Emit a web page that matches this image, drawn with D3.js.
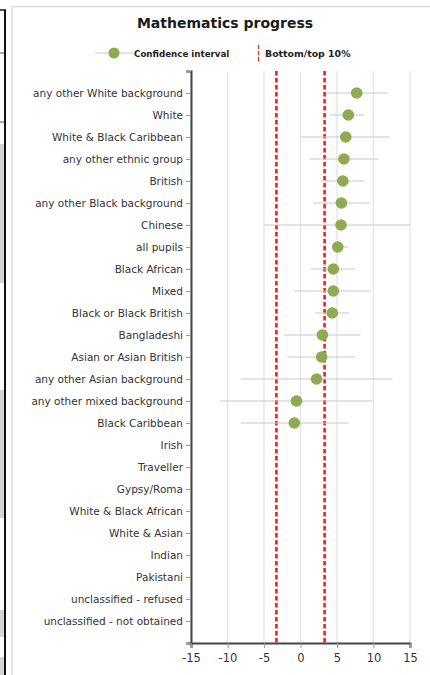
<!DOCTYPE html>
<html>
<head>
<meta charset="utf-8">
<script src="https://cdn.jsdelivr.net/npm/d3@7"></script>
<style>
  html, body { margin: 0; padding: 0; background: #fff; }
  svg { display: block; font-family: "DejaVu Sans", Verdana, sans-serif; }
</style>
</head>
<body>
<svg id="chart" width="430" height="675"></svg>
<script>
// Ethnic groups, top to bottom
const categories = [
  "any other White background", "White", "White & Black Caribbean",
  "any other ethnic group", "British", "any other Black background",
  "Chinese", "all pupils", "Black African", "Mixed", "Black or Black British",
  "Bangladeshi", "Asian or Asian British", "any other Asian background",
  "any other mixed background", "Black Caribbean", "Irish", "Traveller",
  "Gypsy/Roma", "White & Black African", "White & Asian", "Indian",
  "Pakistani", "unclassified - refused", "unclassified - not obtained"
];
// Progress score and confidence interval (null = no data)
const progress = [7.7, 6.55, 6.2, 5.95, 5.8, 5.6, 5.55, 5.1, 4.5, 4.5, 4.35, 3.0, 2.9, 2.2, -0.55, -0.85,
  null, null, null, null, null, null, null, null, null];
const ciLower = [3.6, 4.0, 0.0, 1.3, 3.0, 1.7, -4.95, 4.5, 1.4, -0.8, 2.0, -2.2, -1.8, -8.2, -11.0, -8.2,
  null, null, null, null, null, null, null, null, null];
const ciUpper = [11.9, 8.8, 12.2, 10.7, 8.8, 9.5, 15, 6.5, 7.5, 9.65, 6.65, 8.2, 7.5, 12.6, 9.9, 6.6,
  null, null, null, null, null, null, null, null, null];
// Bottom / top 10% thresholds
const thresholds = [-3.3, 3.3];
const xTicks = [-15, -10, -5, 0, 5, 10, 15];

(function () {
const svg = d3.select("#chart");
const W = 430, H = 675;

// page surroundings
svg.append("rect").attr("x", 0).attr("y", 144).attr("width", 4).attr("height", 139).attr("fill", "#d4d4d4");
svg.append("rect").attr("x", 0).attr("y", 390).attr("width", 4).attr("height", 128).attr("fill", "#d4d4d4");
svg.append("rect").attr("x", 0).attr("y", 610).attr("width", 4).attr("height", 27).attr("fill", "#d4d4d4");
svg.append("rect").attr("x", 0).attr("y", 657).attr("width", 4).attr("height", 18).attr("fill", "#d4d4d4");
svg.append("line").attr("x1", 0).attr("x2", 6).attr("y1", 10).attr("y2", 10).attr("stroke", "#111").attr("stroke-width", 1.5);
svg.append("line").attr("x1", 0).attr("x2", 5).attr("y1", 53).attr("y2", 53).attr("stroke", "#555").attr("stroke-width", 1);
svg.append("line").attr("x1", 0).attr("x2", 5).attr("y1", 122).attr("y2", 122).attr("stroke", "#555").attr("stroke-width", 1);
svg.append("line").attr("x1", 5).attr("x2", 5).attr("y1", 10).attr("y2", H).attr("stroke", "#111").attr("stroke-width", 2);

// panel border
svg.append("path").attr("d", `M12,${H} V6.5 H${W}`).attr("fill", "none").attr("stroke", "#dcdcdc").attr("stroke-width", 1.5);

const plotL = 191, plotR = 410, plotT = 71, plotB = 643;
const x = d3.scaleLinear().domain([-15, 15]).range([plotL, plotR]);
const y = d3.scaleLinear().domain([0, categories.length + 1]).range([plotT, plotB]);

// title
svg.append("text").attr("x", 225).attr("y", 28).attr("text-anchor", "middle")
  .attr("font-size", 14).attr("font-weight", "bold").attr("fill", "#1a1a1a")
  .text("Mathematics progress");

// legend
const lg = svg.append("g");
lg.append("line").attr("x1", 95).attr("x2", 133).attr("y1", 53).attr("y2", 53)
  .attr("stroke", "#c8c8c8").attr("stroke-width", 1.2);
lg.append("circle").attr("cx", 114).attr("cy", 53).attr("r", 5.5).attr("fill", "#8eab50");
lg.append("text").attr("x", 134).attr("y", 56.5).attr("font-size", 8.7).attr("font-weight", "bold")
  .attr("fill", "#222").text("Confidence interval");
lg.append("line").attr("x1", 258.5).attr("x2", 258.5).attr("y1", 45).attr("y2", 63)
  .attr("stroke", "#ff2020").attr("stroke-width", 1.2).attr("stroke-dasharray", "4,2");
lg.append("text").attr("x", 265).attr("y", 56.5).attr("font-size", 9.4).attr("font-weight", "bold")
  .attr("fill", "#222").text("Bottom/top 10%");

// vertical gridlines
svg.append("g").selectAll("line").data(xTicks).join("line")
  .attr("x1", d => x(d)).attr("x2", d => x(d)).attr("y1", plotT).attr("y2", plotB)
  .attr("stroke", "#e2e2e2").attr("stroke-width", 1.2);

// threshold lines
svg.append("g").selectAll("line").data(thresholds).join("line")
  .attr("x1", d => x(d)).attr("x2", d => x(d)).attr("y1", plotT).attr("y2", plotB)
  .attr("stroke", "#ff1a1a").attr("stroke-width", 2.6).attr("stroke-dasharray", "4.5,2.5");

// rows with data
const rows = categories.map((c, i) => ({ c, i, v: progress[i], lo: ciLower[i], hi: ciUpper[i] }))
  .filter(d => d.v !== null);

svg.append("g").selectAll("line").data(rows).join("line")
  .attr("x1", d => x(d.lo)).attr("x2", d => x(d.hi))
  .attr("y1", d => y(d.i + 1)).attr("y2", d => y(d.i + 1))
  .attr("stroke", "#c8c8c8").attr("stroke-width", 1.1);

svg.append("g").selectAll("circle").data(rows).join("circle")
  .attr("cx", d => x(d.v)).attr("cy", d => y(d.i + 1)).attr("r", 5.8)
  .attr("fill", "#8eab50");

// y axis
const yAxis = d3.axisLeft(y)
  .tickValues(d3.range(0, categories.length + 2))
  .tickSize(5).tickPadding(3)
  .tickFormat(d => (d >= 1 && d <= categories.length) ? categories[d - 1] : "");
const gy = svg.append("g").attr("transform", `translate(${plotL},0)`).call(yAxis);
gy.select(".domain").attr("stroke", "#444").attr("stroke-width", 2);
gy.selectAll(".tick line").attr("stroke", "#999");
gy.selectAll("text").attr("font-size", 10.5).attr("fill", "#333").attr("font-family", "DejaVu Sans, sans-serif");

// x axis
const xAxis = d3.axisBottom(x).tickValues(xTicks).tickSize(5).tickPadding(6).tickFormat(d => String(d));
const gx = svg.append("g").attr("transform", `translate(0,${plotB})`).call(xAxis);
gx.select(".domain").attr("stroke", "#444").attr("stroke-width", 2);
gx.selectAll(".tick line").attr("stroke", "#999");
gx.selectAll("text").attr("font-size", 11.5).attr("fill", "#333").attr("font-family", "DejaVu Sans, sans-serif");
})();
</script>
</body>
</html>
